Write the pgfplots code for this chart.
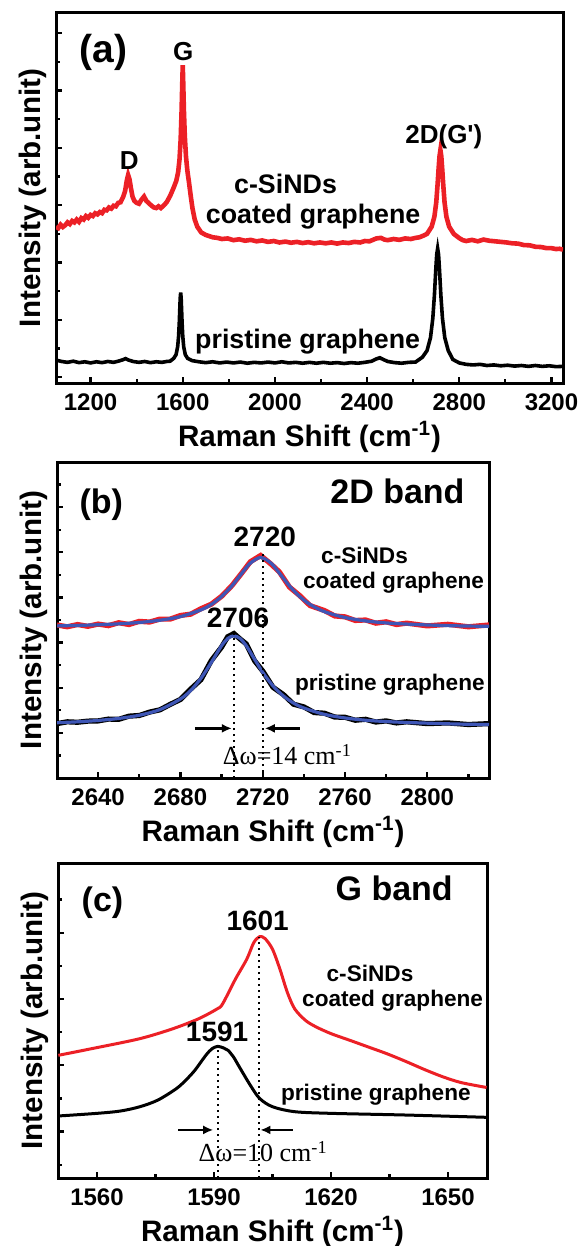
\documentclass[border=0pt]{standalone}
\usepackage{fontspec}
\setmainfont{Liberation Sans}
\newfontfamily\timesfont{Liberation Serif}
\usepackage{pgfplots}
\pgfplotsset{compat=1.18}
\usetikzlibrary{arrows.meta}
\definecolor{myred}{RGB}{236,32,38}
\definecolor{myblue}{RGB}{62,86,182}
\newcommand{\fs}[1]{\bfseries\fontsize{#1}{#1}\selectfont}
\pgfplotsset{
  panel/.style={
    scale only axis,
    axis line style={line width=1.5pt},
    tick align=inside,
    xtick pos=left, ytick pos=left,
    major tick length=3pt, minor tick length=1.8pt,
    every tick/.style={line width=1.1pt, black},
    yticklabels={},
    tick label style={font=\fs{12}},
    xticklabel style={yshift=-2pt},
    /pgf/number format/assume math mode=true,
    /pgf/number format/1000 sep={},
    label style={font=\fs{14.8}},
    xlabel={Raman Shift (cm\textsuperscript{-1})},
    ylabel={Intensity (arb.unit)},
    ylabel style={at={(axis description cs:0,0.5)}, yshift=11.5pt, anchor=center},
    xlabel style={at={(axis description cs:0.5,0)}, yshift=-27pt, anchor=center},
    clip=true,
  }
}
\begin{document}
\begin{tikzpicture}
\useasboundingbox (0,0) rectangle (289pt,-623pt);
% ---------------- (a) ----------------
\begin{axis}[panel, at={(28pt,-6.5pt)}, anchor=north west,
  width=253.5pt, height=185pt,
  xmin=1050, xmax=3250, ymin=-0.2, ymax=12.7,
  xtick={1200,1600,...,3200}, minor xtick={1400,1800,...,3000},
  ytick={0,2,...,12}, minor ytick={1,3,...,11}]
\addplot[black, line width=1.8pt] coordinates {
(1050,0.60)(1075,0.55)(1100,0.52)(1125,0.56)(1150,0.51)(1175,0.54)(1200,0.50)(1225,0.54)
(1250,0.51)(1275,0.55)(1300,0.52)(1320,0.56)(1340,0.61)(1352,0.65)(1365,0.60)(1385,0.55)
(1410,0.52)(1435,0.55)(1460,0.51)(1485,0.54)(1510,0.52)(1530,0.55)(1545,0.56)(1561,0.66)
(1571,0.79)(1578,1.07)(1582,1.44)(1585,1.92)(1587,2.35)(1589,2.77)(1591,2.95)(1593,2.77)
(1595,2.35)(1597,1.92)(1600,1.44)(1604,1.07)(1611,0.79)(1621,0.66)(1641,0.58)(1670,0.54)
(1700,0.51)(1730,0.54)(1760,0.50)(1790,0.53)(1820,0.50)(1850,0.53)(1880,0.49)(1910,0.52)
(1940,0.50)(1970,0.53)(2000,0.50)(2030,0.54)(2060,0.50)(2090,0.52)(2120,0.49)(2150,0.52)
(2180,0.49)(2210,0.52)(2240,0.49)(2270,0.51)(2300,0.48)(2330,0.51)(2360,0.49)(2390,0.52)
(2420,0.56)(2440,0.64)(2455,0.68)(2470,0.62)(2490,0.55)(2520,0.51)(2550,0.49)(2580,0.52)
(2610,0.53)(2640,0.70)(2660,0.93)(2675,1.38)(2685,2.05)(2692,2.86)(2698,3.76)(2702,4.28)
(2706,4.49)(2710,4.28)(2714,3.76)(2720,2.86)(2727,2.05)(2737,1.38)(2752,0.93)(2772,0.62)
(2800,0.50)(2830,0.45)(2860,0.43)(2890,0.45)(2920,0.41)(2950,0.43)(2980,0.40)(3010,0.42)
(3040,0.39)(3070,0.41)(3100,0.38)(3130,0.41)(3160,0.38)(3190,0.40)(3220,0.37)(3250,0.38)
};
\addplot[myred, line width=2.3pt] coordinates {
(1050,5.25)(1060,5.20)(1070,5.32)(1080,5.24)(1090,5.30)(1100,5.40)(1110,5.34)(1120,5.45)(1130,5.40)
(1140,5.50)(1150,5.42)(1160,5.55)(1170,5.50)(1180,5.62)(1190,5.56)(1200,5.66)(1210,5.62)(1220,5.72)
(1230,5.68)(1240,5.76)(1250,5.72)(1260,5.84)(1270,5.82)(1280,5.92)(1290,5.88)(1300,5.98)(1310,5.96)
(1320,6.08)(1330,6.10)(1342,6.30)(1350,6.50)(1357,6.85)(1363,7.05)(1369,6.90)(1375,6.60)(1382,6.30)
(1390,6.15)(1400,6.08)(1410,6.05)(1420,6.18)(1432,6.30)(1442,6.15)(1455,6.05)(1465,5.98)(1475,5.92)
(1485,5.90)(1495,5.96)(1505,5.90)(1515,5.97)(1530,6.10)(1545,6.32)(1560,6.60)(1572,6.85)(1580,7.15)
(1586,7.60)(1591,8.30)(1595,9.30)(1598,10.30)(1600,10.88)(1602,10.30)(1605,9.30)(1609,8.40)(1614,7.70)
(1620,7.20)(1627,6.80)(1635,6.30)(1642,5.90)(1652,5.50)(1663,5.25)(1680,5.05)(1700,4.96)(1715,4.92)
(1730,4.88)(1750,4.86)(1770,4.82)(1795,4.84)(1820,4.78)(1845,4.81)(1870,4.76)(1895,4.79)(1920,4.74)
(1945,4.77)(1970,4.72)(1995,4.75)(2020,4.70)(2045,4.73)(2070,4.69)(2095,4.72)(2120,4.68)(2145,4.71)
(2170,4.67)(2195,4.70)(2220,4.67)(2245,4.70)(2270,4.66)(2295,4.70)(2320,4.68)(2345,4.72)(2370,4.70)
(2390,4.75)(2410,4.74)(2440,4.84)(2460,4.86)(2475,4.80)(2490,4.78)(2515,4.82)(2540,4.79)(2565,4.84)
(2590,4.82)(2610,4.86)(2627,4.88)(2645,4.94)(2660,5.00)(2680,5.25)(2692,5.60)(2700,6.10)(2706,6.75)
(2710,7.25)(2714,7.70)(2718,7.92)(2722,7.70)(2726,7.25)(2730,6.75)(2736,6.10)(2744,5.60)(2756,5.25)
(2776,5.00)(2800,4.85)(2815,4.78)(2830,4.75)(2855,4.79)(2880,4.74)(2905,4.80)(2930,4.76)(2955,4.74)
(2980,4.72)(3005,4.70)(3030,4.67)(3055,4.66)(3080,4.61)(3105,4.60)(3130,4.55)(3155,4.54)(3180,4.50)
(3200,4.50)(3220,4.47)(3235,4.48)(3250,4.45)
};
\node[font=\fs{19.5}] at (axis cs:1256,11.34) {(a)};
\node[font=\fs{13}] at (axis cs:1602,11.34) {G};
\node[font=\fs{13}] at (axis cs:1368,7.56) {D};
\node[font=\fs{13}] at (axis cs:2733,8.39) {2D(G\textquotesingle)};
\node[font=\fs{13.4}] at (axis cs:2046,6.74) {c-SiNDs};
\node[font=\fs{13.4}] at (axis cs:2166,5.60) {coated graphene};
\node[font=\fs{13.4}] at (axis cs:2142,1.25) {pristine graphene};
\end{axis}
% ---------------- (b) ----------------
\begin{axis}[panel, at={(28.5pt,-231pt)}, anchor=north west,
  width=216pt, height=158pt,
  xmin=2620, xmax=2830, ymin=0, ymax=14,
  xtick={2640,2680,...,2800}, minor xtick={2660,2700,...,2820},
  ytick={2,4,...,12}, minor ytick={1,3,...,13}]
\addplot[black, line width=2.6pt] coordinates {
(2620,2.41)(2625,2.49)(2630,2.47)(2635,2.52)(2640,2.53)(2645,2.61)(2650,2.60)(2655,2.74)
(2660,2.77)(2665,2.92)(2670,3.02)(2675,3.26)(2680,3.48)(2685,3.94)(2690,4.36)(2695,5.20)
(2700,5.80)(2703,6.26)(2706,6.40)(2709,6.16)(2712,5.94)(2716,5.20)(2720,4.74)(2725,4.02)
(2730,3.70)(2735,3.27)(2740,3.15)(2745,2.90)(2750,2.87)(2755,2.70)(2760,2.69)(2765,2.56)
(2770,2.60)(2775,2.48)(2780,2.53)(2785,2.44)(2790,2.49)(2800,2.41)(2810,2.44)(2820,2.37)(2830,2.41)
};
\addplot[myred, line width=2.6pt] coordinates {
(2620,6.78)(2625,6.70)(2630,6.80)(2635,6.72)(2640,6.82)(2645,6.75)(2650,6.88)(2655,6.80)
(2660,6.94)(2665,6.91)(2670,7.04)(2675,7.04)(2680,7.20)(2685,7.26)(2690,7.50)(2695,7.70)
(2700,8.05)(2705,8.52)(2710,9.10)(2714,9.58)(2719,9.86)(2724,9.48)(2728,9.14)(2733,8.46)
(2738,8.08)(2743,7.64)(2750,7.42)(2755,7.18)(2760,7.14)(2765,6.98)(2770,7.00)(2775,6.86)
(2780,6.92)(2785,6.80)(2790,6.86)(2800,6.74)(2810,6.81)(2820,6.70)(2830,6.78)
};
\addplot[myblue, line width=1.6pt, smooth] coordinates {
(2620,2.45)(2630,2.49)(2640,2.55)(2650,2.64)(2660,2.78)(2670,3.03)(2680,3.50)(2685,3.88)
(2690,4.42)(2695,5.12)(2700,5.86)(2703,6.18)(2706,6.30)(2709,6.18)(2712,5.86)(2716,5.27)
(2720,4.68)(2725,4.08)(2730,3.64)(2735,3.32)(2740,3.10)(2750,2.82)(2760,2.66)(2770,2.56)
(2780,2.50)(2790,2.46)(2800,2.43)(2815,2.39)(2830,2.37)
};
\addplot[myblue, line width=1.6pt, smooth] coordinates {
(2620,6.74)(2630,6.76)(2640,6.79)(2650,6.83)(2660,6.89)(2670,6.99)(2680,7.15)(2690,7.45)
(2695,7.69)(2700,8.04)(2705,8.51)(2710,9.09)(2714,9.52)(2719,9.77)(2724,9.52)(2728,9.09)
(2733,8.51)(2738,8.04)(2743,7.69)(2750,7.37)(2760,7.11)(2770,6.96)(2780,6.87)(2790,6.82)
(2800,6.78)(2815,6.74)(2830,6.72)
};
\draw[dotted, line width=1pt] (axis cs:2706,0) -- (axis cs:2706,6.4);
\draw[dotted, line width=1pt] (axis cs:2720,0) -- (axis cs:2720,9.93);
\draw[-{Latex[length=5pt,width=4.5pt]}, line width=1.4pt] (axis cs:2687,2.2) -- (axis cs:2705,2.2);
\draw[-{Latex[length=5pt,width=4.5pt]}, line width=1.4pt] (axis cs:2738,2.2) -- (axis cs:2721,2.2);
\node[font=\timesfont\fontsize{13}{13}\selectfont] at (axis cs:2732,1.03) {Δω=14 cm\textsuperscript{-1}};
\node[font=\fs{17}] at (axis cs:2641.5,12.13) {(b)};
\node[font=\fs{17}] at (axis cs:2785.5,12.72) {2D band};
\node[font=\fs{14}] at (axis cs:2721,10.7) {2720};
\node[font=\fs{14}] at (axis cs:2708,7.09) {2706};
\node[font=\fs{11.3}] at (axis cs:2769.5,9.85) {c-SiNDs};
\node[font=\fs{11.3}] at (axis cs:2783.6,8.65) {coated graphene};
\node[font=\fs{11.3}] at (axis cs:2781.8,4.12) {pristine graphene};
\end{axis}
% ---------------- (c) ----------------
\begin{axis}[panel, at={(29pt,-431.5pt)}, anchor=north west,
  width=214.5pt, height=157.5pt,
  xmin=1550, xmax=1660, ymin=-0.4, ymax=9.1,
  xtick={1560,1590,1620,1650}, minor xtick={1575,1605,1635},
  ytick={1,3,5,7}, minor ytick={0,2,4,6,8}]
\addplot[black, line width=1.5pt, smooth] coordinates {
(1550,1.47)(1560,1.55)(1566,1.62)(1571,1.75)(1575.6,1.95)(1580.4,2.30)(1583,2.58)(1585.1,2.85)
(1587.9,3.30)(1589.5,3.50)(1591,3.57)(1592.5,3.52)(1593.6,3.45)(1595,3.25)(1596.5,2.95)
(1599.3,2.40)(1601.7,2.00)(1605,1.75)(1610.7,1.60)(1620,1.55)(1639,1.50)(1660,1.43)
};
\addplot[myred, line width=1.5pt, smooth] coordinates {
(1550.1,3.30)(1558.6,3.50)(1570.9,3.80)(1579.4,4.10)(1586.0,4.40)(1590.8,4.70)(1592.2,4.85)
(1595.5,5.60)(1598.4,6.20)(1600.2,6.70)(1601.7,6.88)(1603.1,6.82)(1605.0,6.50)(1606.9,5.90)
(1608.8,5.20)(1610.7,4.70)(1613.5,4.35)(1616.3,4.15)(1620.1,3.95)(1624.9,3.75)(1629.6,3.55)
(1634.3,3.35)(1639.1,3.12)(1643.8,2.88)(1648.5,2.66)(1653.3,2.48)(1659.9,2.33)
};
\draw[dotted, line width=1pt] (axis cs:1591,-0.4) -- (axis cs:1591,3.57);
\draw[dotted, line width=1pt] (axis cs:1601.5,-0.4) -- (axis cs:1601.5,6.88);
\draw[-{Latex[length=5pt,width=4.5pt]}, line width=1.4pt] (axis cs:1580.8,1.05) -- (axis cs:1589.8,1.05);
\draw[-{Latex[length=5pt,width=4.5pt]}, line width=1.4pt] (axis cs:1610.2,1.05) -- (axis cs:1601.9,1.05);
\node[font=\timesfont\fontsize{13}{13}\selectfont] at (axis cs:1602.6,0.4) {Δω=10 cm\textsuperscript{-1}};
\node[font=\fs{17}] at (axis cs:1561.4,7.9) {(c)};
\node[font=\fs{17}] at (axis cs:1636.2,8.35) {G band};
\node[font=\fs{14}] at (axis cs:1601.2,7.35) {1601};
\node[font=\fs{14}] at (axis cs:1590.8,4.0) {1591};
\node[font=\fs{11.3}] at (axis cs:1630,5.78) {c-SiNDs};
\node[font=\fs{11.3}] at (axis cs:1635.8,4.95) {coated graphene};
\node[font=\fs{11.3}] at (axis cs:1631.5,2.12) {pristine graphene};
\end{axis}
\end{tikzpicture}
\end{document}
